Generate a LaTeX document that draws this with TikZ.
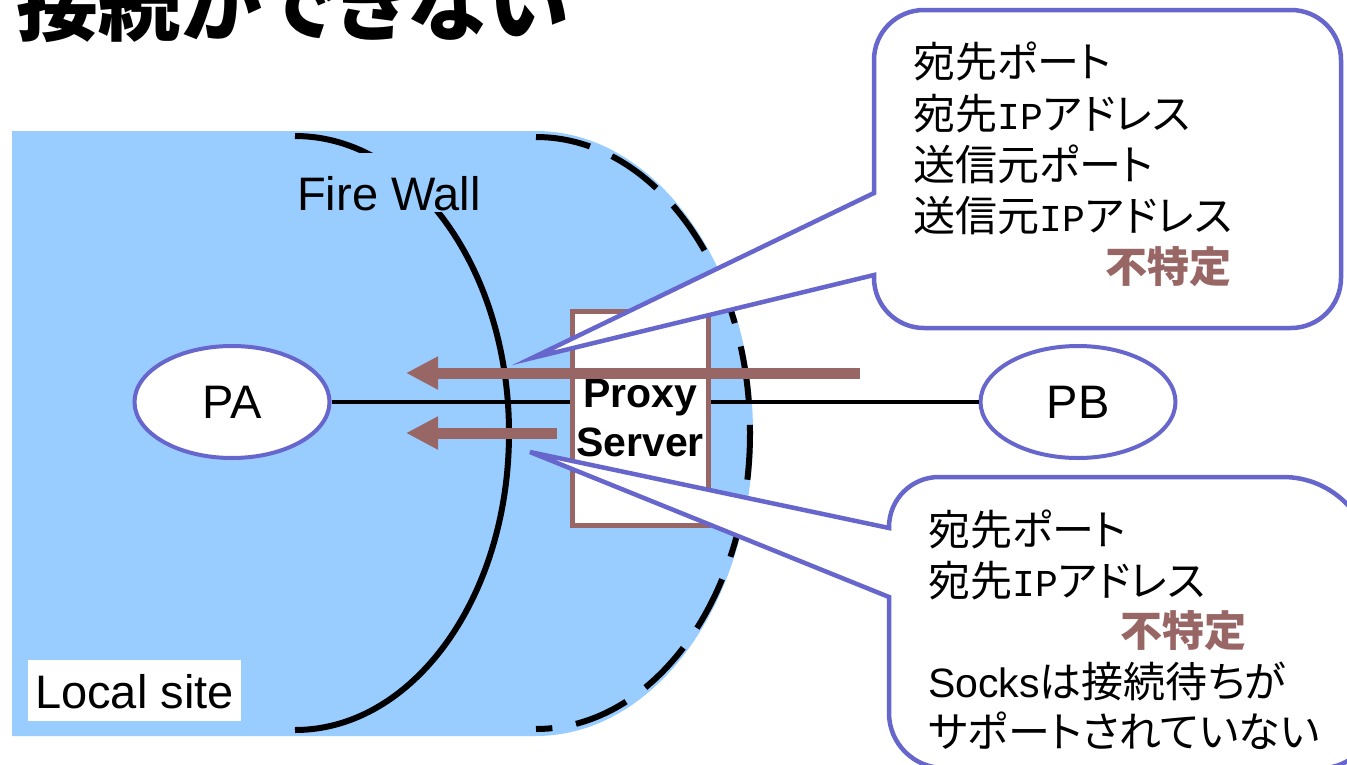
\documentclass[tikz,border=0pt]{standalone}
\usepackage{fontspec}
\setmainfont{Liberation Sans}
\newfontfamily\jp[RawFeature=+palt]{Noto Sans CJK JP}
\newfontfamily\lat{Liberation Sans}
\newfontfamily\mono{Liberation Mono}
\usetikzlibrary{shapes.geometric,arrows.meta}
\definecolor{bluefill}{HTML}{99CCFF}
\definecolor{callout}{HTML}{6666CC}
\definecolor{brownc}{HTML}{996666}
\newcommand{\myIP}{{\mono\fontsize{38pt}{40pt}\selectfont IP}}
\begin{document}
\begin{tikzpicture}[x=1pt,y=1pt,yscale=-1,
  jtext/.style={anchor=base west, inner sep=0pt, font=\fontsize{42pt}{50pt}\selectfont\jp},
  redtext/.style={anchor=base west, inner sep=0pt, text=brownc, font=\fontsize{42pt}{50pt}\selectfont\jp\bfseries},
  latin/.style={font=\fontsize{47pt}{56pt}\selectfont\lat},
  host/.style={ellipse, draw=callout, line width=4pt, fill=white, minimum width=195pt, minimum height=112pt, inner sep=0pt, latin},
  callbox/.style={draw=callout, line width=4.5pt, fill=white},
  flow/.style={draw=brownc, line width=11pt, -{Triangle[length=32pt,width=31pt]}},
  wall/.style={line width=6pt, draw=black},
]
\useasboundingbox (0,0) rectangle (1347,764);
\clip (0,0) rectangle (1347,764);
\fill[white] (0,0) rectangle (1347,764);

% title
\node[anchor=base west, inner sep=0pt, font=\fontsize{82pt}{90pt}\selectfont\jp\bfseries] (title) at (16,34) {接続ができない};

% local site region
\fill[bluefill] (12,131) -- (536,131) arc[start angle=-90,end angle=90,x radius=217pt,y radius=302.5pt] -- (12,736) -- cycle;
\draw[wall] (295,136) arc[start angle=-90,end angle=90,x radius=214pt,y radius=297pt];
\draw[wall, dash pattern=on 55pt off 24pt] (536,137) arc[start angle=-90,end angle=90,x radius=214pt,y radius=296pt];

% Fire Wall label
\fill[bluefill] (292,153) rectangle (490,212);
\node[latin, anchor=base west, inner sep=0pt] (fw) at (297,210) {Fire Wall};

% Local site label
\node[latin, anchor=base west, fill=white, inner xsep=7pt, inner ysep=0pt, text height=48pt, text depth=13pt] (ls) at (28,708) {Local site};

% hosts
\node[host] (PA) at (232,402) {PA};
\node[host] (PB) at (1078,402) {PB};
\draw[line width=4pt] (PA.east) -- (PB.west);

% proxy
\node[draw=brownc, line width=5pt, fill=white, minimum width=136pt, minimum height=214pt, inner sep=0pt, align=center,
      font=\fontsize{41pt}{49pt}\selectfont\lat\bfseries] (proxy) at (640,418) {Proxy\\Server};

% flows
\coordinate (f1s) at (860,373);
\coordinate (f1e) at (406,373);
\coordinate (f2s) at (557,433);
\coordinate (f2e) at (406,433);
\draw[flow] (f1s) -- (f1e);
\draw[flow] (f2s) -- (f2e);

% callout 1
\coordinate (t1) at (532,358);
\draw[callbox] (874,193) -- (874,60) arc[start angle=180,end angle=270,radius=50pt]
  -- (1291,10) arc[start angle=270,end angle=360,radius=50pt]
  -- (1341,278) arc[start angle=0,end angle=90,radius=50pt]
  -- (924,328) arc[start angle=90,end angle=180,radius=50pt]
  -- (874,275) -- (t1) -- cycle;

% callout 2
\coordinate (t2) at (530,452);
\draw[callbox] (889,597) -- (889,713) arc[start angle=180,end angle=90,radius=55pt]
  -- (1322,768) arc[start angle=90,end angle=0,radius=50pt]
  -- (1372,566) arc[start angle=0,end angle=-90,radius=89pt]
  -- (939,477) arc[start angle=270,end angle=180,radius=50pt]
  -- (889,528) -- (t2) -- cycle;

% callout 1 text
\node[jtext] (a1) at (913,77) {宛先ポート};
\node[jtext] (a2) at (913,129) {宛先\myIP アドレス};
\node[jtext] (a3) at (913,180) {送信元ポート};
\node[jtext] (a4) at (913,231) {送信元\myIP アドレス};
\node[redtext] (a5) at (1105,282) {不特定};

% callout 2 text
\node[jtext] (b1) at (928,545) {宛先ポート};
\node[jtext] (b2) at (928,596) {宛先\myIP アドレス};
\node[redtext] (b3) at (1120,646) {不特定};
\node[jtext] (b4) at (928,697) {{\lat\fontsize{41pt}{50pt}\selectfont Socks}は接続待ちが};
\node[jtext] (b5) at (928,747) {サポートされていない};
\end{tikzpicture}
\end{document}
